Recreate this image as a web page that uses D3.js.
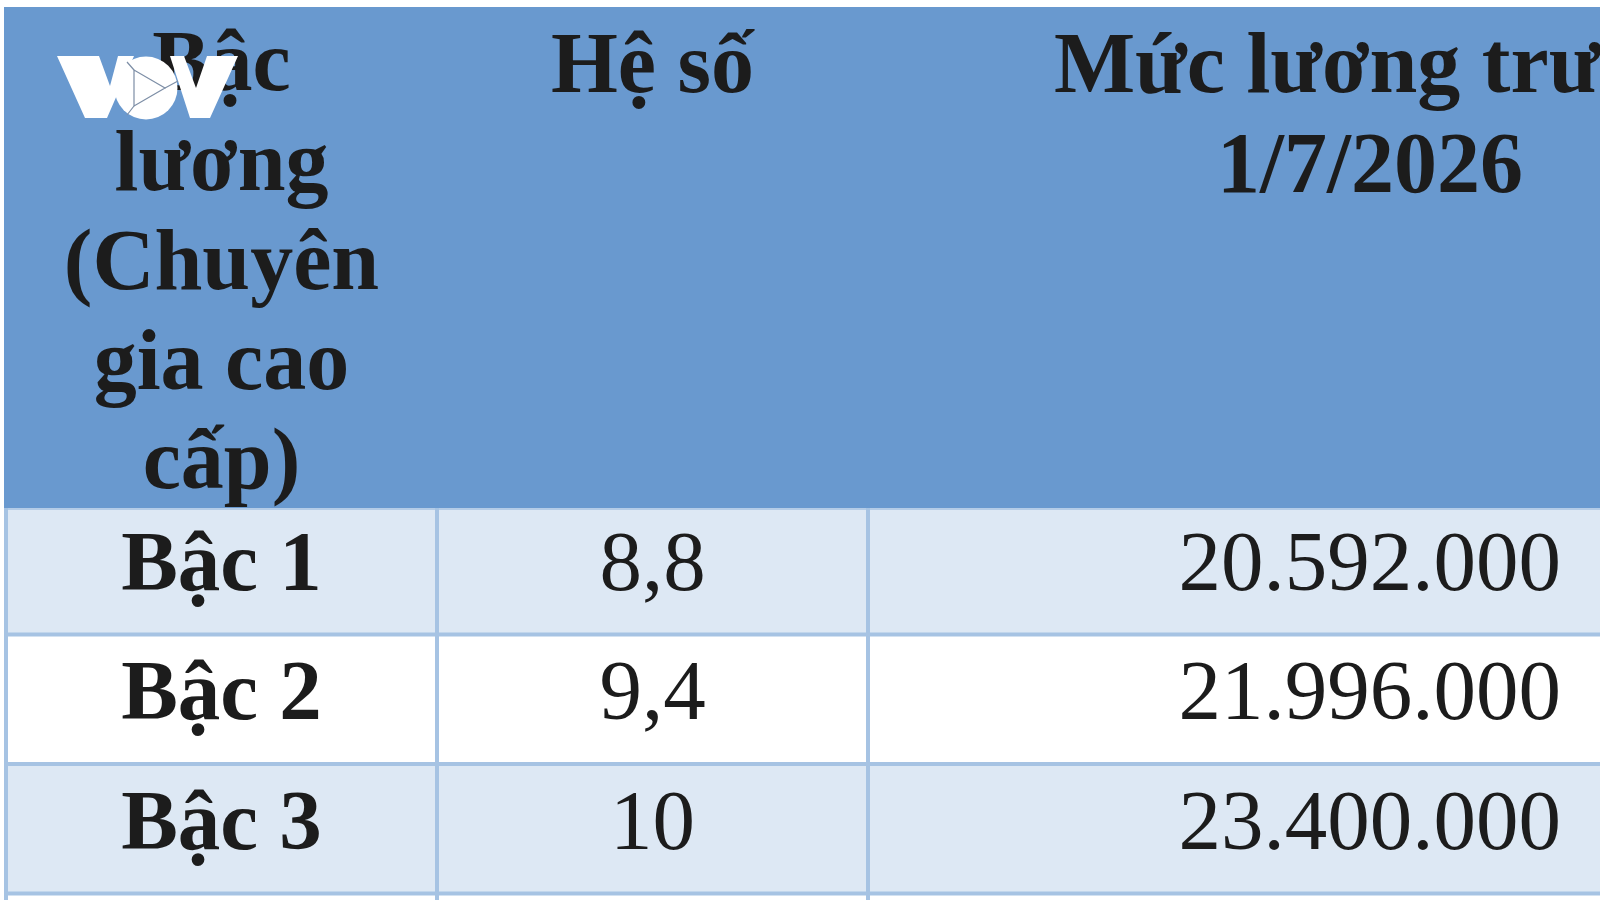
<!DOCTYPE html>
<html>
<head>
<meta charset="utf-8">
<script src="https://cdn.jsdelivr.net/npm/d3@7"></script>
<style>
  html, body { margin: 0; padding: 0; background: #fff; overflow: hidden; }
  svg { display: block; }
</style>
</head>
<body>
<div id="chart"></div>
<script>
// Table data
const headerCol1 = ['Bậc', 'lương', '(Chuyên', 'gia cao', 'cấp)'];
const headerCol2 = ['Hệ số'];
const headerCol3 = ['Mức lương trước', '1/7/2026'];
const levels = ['Bậc 1', 'Bậc 2', 'Bậc 3'];
const coefficients = ['8,8', '9,4', '10'];
const salaries = ['20.592.000', '21.996.000', '23.400.000'];

const width = 1600;
const height = 900;

const headerBlue = '#6999cf';
const rowLight = '#dde8f4';
const gridBlue = '#a6c3e3';
const ink = '#1c1c1c';
const font = '"Liberation Serif", "Times New Roman", serif';

const svg = d3.select('#chart')
    .append('svg')
    .attr('width', width)
    .attr('height', height);

// column and row scales
const x = d3.scaleOrdinal()
    .domain(['c0', 'c1', 'c2', 'c3'])
    .range([6, 437, 868, 1900]);

const y = d3.scaleBand()
    .domain([...levels, 'next'])
    .range([505, 505 + 4 * 129.5])
    .paddingInner(0);

// header background
svg.append('rect')
    .attr('x', 4)
    .attr('y', 7)
    .attr('width', width)
    .attr('height', 501)
    .attr('fill', headerBlue);

// body rows
const rows = svg.append('g')
    .selectAll('g')
    .data(levels)
    .join('g');

rows.append('rect')
    .attr('x', 4)
    .attr('y', d => Math.max(y(d), 508))
    .attr('width', width)
    .attr('height', d => y(d) + y.bandwidth() - Math.max(y(d), 508))
    .attr('fill', (d, i) => i % 2 === 0 ? rowLight : '#ffffff');

// horizontal grid lines
svg.append('g')
    .selectAll('line')
    .data(levels)
    .join('line')
    .attr('x1', 4)
    .attr('x2', width)
    .attr('y1', d => y(d) + y.bandwidth())
    .attr('y2', d => y(d) + y.bandwidth())
    .attr('stroke', gridBlue)
    .attr('stroke-width', 4);

svg.append('line')
    .attr('x1', 4).attr('x2', width)
    .attr('y1', 509).attr('y2', 509)
    .attr('stroke', gridBlue)
    .attr('stroke-width', 1.5);

// vertical grid lines (body only)
svg.append('g')
    .selectAll('line')
    .data(['c0', 'c1', 'c2'])
    .join('line')
    .attr('x1', d => x(d))
    .attr('x2', d => x(d))
    .attr('y1', 508)
    .attr('y2', height)
    .attr('stroke', gridBlue)
    .attr('stroke-width', 4);

const center = (a, b) => (x(a) + x(b)) / 2;

// header text
const headerText = (lines, cx, y0) => {
    svg.append('g')
        .selectAll('text')
        .data(lines)
        .join('text')
        .attr('x', cx)
        .attr('y', (d, i) => y0 + i * 99.5)
        .attr('text-anchor', 'middle')
        .attr('font-family', font)
        .attr('font-weight', 'bold')
        .attr('font-size', 86)
        .attr('fill', ink)
        .text(d => d);
};
headerText(headerCol1, center('c0', 'c1'), 90);
headerText(headerCol2, center('c1', 'c2'), 92);
headerText(headerCol3, 1370, 92);

// body text
rows.append('text')
    .attr('x', center('c0', 'c1'))
    .attr('y', d => y(d) + y.bandwidth() - 45)
    .attr('text-anchor', 'middle')
    .attr('font-family', font)
    .attr('font-weight', 'bold')
    .attr('font-size', 85)
    .attr('fill', ink)
    .text(d => d);

rows.append('text')
    .attr('x', center('c1', 'c2'))
    .attr('y', d => y(d) + y.bandwidth() - 45)
    .attr('text-anchor', 'middle')
    .attr('font-family', font)
    .attr('font-size', 85)
    .attr('fill', ink)
    .text((d, i) => coefficients[i]);

rows.append('text')
    .attr('x', 1561)
    .attr('y', d => y(d) + y.bandwidth() - 45)
    .attr('text-anchor', 'end')
    .attr('font-family', font)
    .attr('font-size', 85)
    .attr('fill', ink)
    .text((d, i) => salaries[i]);

// VOV watermark logo
const logo = svg.append('g').attr('fill', '#ffffff');
logo.append('path')
    .attr('d', 'M57,56 L99,56 L110,86 L118,56 L134,56 L107,118 L85,118 Z');
logo.append('circle')
    .attr('cx', 146).attr('cy', 88).attr('r', 31.5);
logo.append('path')
    .attr('d', 'M170,56 L184,56 L196,88 L207,56 L238,56 L210,118 L190,118 Z');
logo.append('path')
    .attr('d', 'M134,70 L134,106 L165,88 Z')
    .attr('fill', 'none')
    .attr('stroke', '#7d8ea6')
    .attr('stroke-width', 1.2);
logo.append('path')
    .attr('d', 'M134,70 L127,62 M165,88 L178,81 M134,106 L127,115')
    .attr('fill', 'none')
    .attr('stroke', '#7d8ea6')
    .attr('stroke-width', 1.2);
</script>
</body>
</html>
